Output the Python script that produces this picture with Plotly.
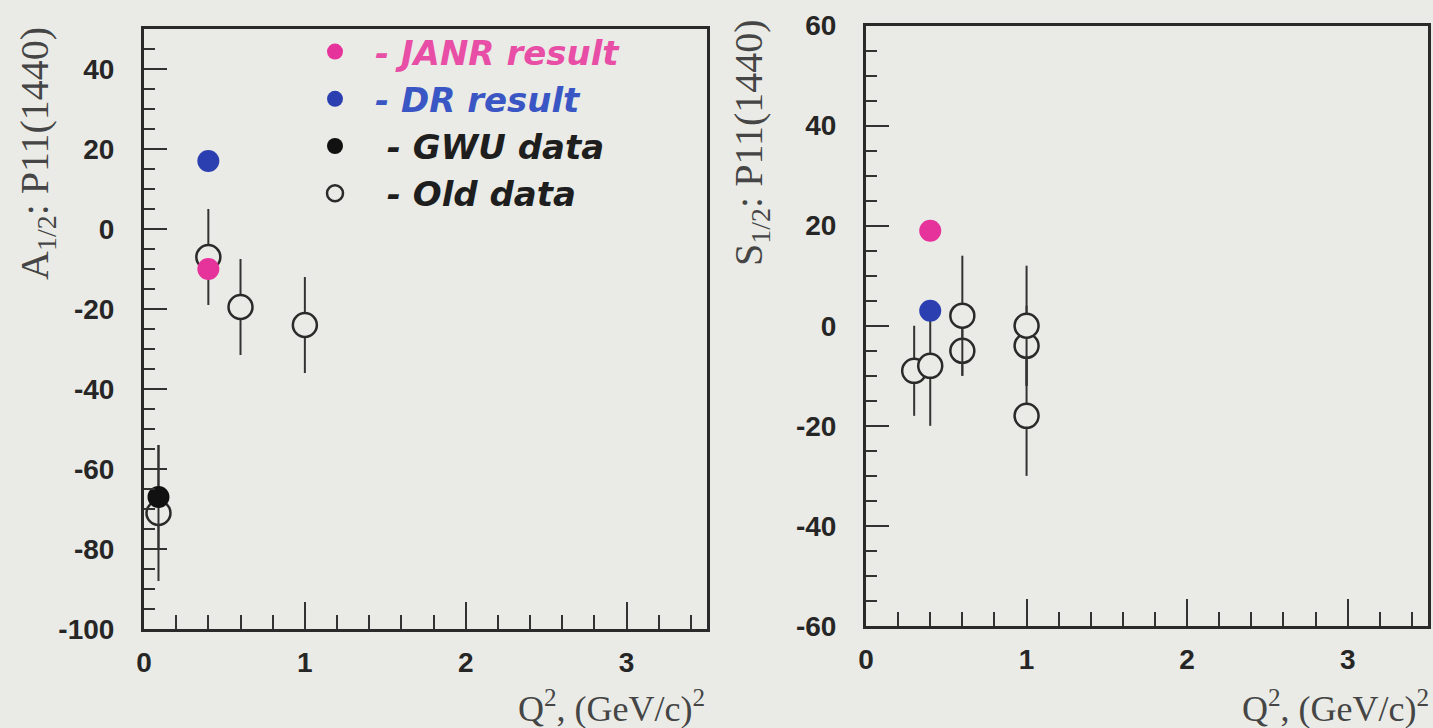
import plotly.graph_objects as go

W, H = 1433, 728

# Q^2 in (GeV/c)^2 and P11(1440) helicity amplitudes
janr_q2 = [0.4]
janr_A12 = [-10]
janr_S12 = [19]

dr_q2 = [0.4]
dr_A12 = [17]
dr_S12 = [3]

gwu_q2 = [0.09]
gwu_A12 = [-67]
gwu_A12_err = [13]

old_A_q2 = [0.09, 0.4, 0.6, 1.0]
old_A12 = [-71, -7, -19.5, -24]
old_A12_err = [17, 12, 12, 12]

# S1/2 old points drawn underneath (other error bars cross them)
old_S_q2_under = [0.6, 1.0]
old_S12_under = [-5, -4]
old_S12_under_err = [5, 8]

old_S_q2 = [0.3, 0.4, 0.6, 1.0, 1.0]
old_S12 = [-9, -8, 2, 0, -18]
old_S12_err = [9, 12, 12, 12, 12]

x_ticks = [0, 1, 2, 3]
x_tick_text = ["0", "1", "2", "3"]
yA_ticks = [-100, -80, -60, -40, -20, 0, 20, 40]
yA_tick_text = ["-100", "-80", "-60", "-40", "-20", "0", "20", "40"]
yS_ticks = [-60, -40, -20, 0, 20, 40, 60]
yS_tick_text = ["-60", "-40", "-20", "0", "20", "40", "60"]

BG = "#eaebe6"
INK = "#2a2a2a"
PINK = "#e6339b"
BLUE = "#2c3fb0"
PINK_TXT = "#e84ea6"
BLUE_TXT = "#3a56c4"

fig = go.Figure()


def open_pts(x, y, err, xa, ya, show=False, name=None, rank=None):
    fig.add_trace(go.Scatter(
        x=x, y=y, mode="markers", xaxis=xa, yaxis=ya,
        marker=dict(symbol="circle", size=24, color=BG,
                    line=dict(color=INK, width=2.5)),
        error_y=dict(type="data", array=err, visible=True,
                     thickness=2, width=0, color="#333333"),
        showlegend=show, name=name, legendrank=rank,
    ))


open_pts(old_S_q2_under, old_S12_under, old_S12_under_err, "x2", "y2")
open_pts(old_S_q2, old_S12, old_S12_err, "x2", "y2")
open_pts(old_A_q2, old_A12, old_A12_err, "x", "y", True,
         "&nbsp;- Old data", 4)

fig.add_trace(go.Scatter(
    x=gwu_q2, y=gwu_A12, mode="markers", xaxis="x", yaxis="y",
    marker=dict(symbol="circle", size=22, color="#111111"),
    error_y=dict(type="data", array=gwu_A12_err, visible=True,
                 thickness=2, width=0, color="#333333"),
    name="&nbsp;- GWU data", legendrank=3,
))

for ya, vals, show in (("y", dr_A12, True), ("y2", dr_S12, False)):
    fig.add_trace(go.Scatter(
        x=dr_q2, y=vals, mode="markers",
        xaxis="x" if ya == "y" else "x2", yaxis=ya,
        marker=dict(symbol="circle", size=22, color=BLUE),
        name=f"<span style='color:{BLUE_TXT}'>- DR result</span>",
        showlegend=show, legendrank=2,
    ))

for ya, vals, show in (("y", janr_A12, True), ("y2", janr_S12, False)):
    fig.add_trace(go.Scatter(
        x=janr_q2, y=vals, mode="markers",
        xaxis="x" if ya == "y" else "x2", yaxis=ya,
        marker=dict(symbol="circle", size=22, color=PINK),
        name=f"<span style='color:{PINK_TXT}'>- JANR result</span>",
        showlegend=show, legendrank=1,
    ))

tick_font = dict(family="Liberation Sans, Arial, sans-serif", size=28,
                 color="#262626", weight="bold")

axis_common = dict(
    showline=True, linewidth=3, linecolor=INK, mirror=True,
    ticks="inside", tickwidth=2, tickcolor="#333333",
    showgrid=False, zeroline=False, tickfont=tick_font,
    automargin=False,
)

xaxis_style = dict(axis_common, range=[0, 3.5], tickvals=x_ticks,
                   ticktext=x_tick_text,
                   ticklen=27, ticklabelstandoff=6,
                   minor=dict(dtick=0.2, tick0=0, ticks="inside",
                              ticklen=14, tickwidth=2,
                              tickcolor="#333333"))

yaxis_style = dict(axis_common, ticklen=23, ticklabelstandoff=21,
                   minor=dict(dtick=5, tick0=0, ticks="inside",
                              ticklen=11, tickwidth=2,
                              tickcolor="#333333"))

fig.update_layout(
    width=W, height=H, autosize=False,
    margin=dict(l=0, r=0, t=0, b=0, pad=0),
    paper_bgcolor=BG, plot_bgcolor=BG,
    xaxis=dict(xaxis_style, domain=[144 / W, 707 / W], anchor="y"),
    yaxis=dict(yaxis_style, domain=[(H - 629) / H, (H - 29) / H],
               range=[-100, 50], tickvals=yA_ticks,
               ticktext=yA_tick_text, anchor="x"),
    xaxis2=dict(xaxis_style, domain=[866 / W, 1428 / W], anchor="y2"),
    yaxis2=dict(yaxis_style, domain=[(H - 626) / H, (H - 25.5) / H],
                range=[-60, 60], tickvals=yS_ticks,
                ticktext=yS_tick_text, anchor="x2"),
    legend=dict(
        x=295 / W, y=1 - 23 / H, xanchor="left", yanchor="top",
        bgcolor="rgba(0,0,0,0)", borderwidth=0,
        font=dict(family="DejaVu Sans, sans-serif", size=34,
                  color="#1e1e1e", style="italic", weight="bold"),
        itemwidth=70, traceorder="normal",
    ),
    showlegend=True,
)

serif = dict(family="Liberation Serif, Times New Roman, serif",
             color="#454545")

fig.add_annotation(
    text="A<sub>1/2</sub>: P11(1440)", xref="paper", yref="paper",
    x=37 / W, y=1 - 154 / H, xanchor="center", yanchor="middle",
    textangle=-90, showarrow=False, font=dict(serif, size=40),
)
fig.add_annotation(
    text="S<sub>1/2</sub>: P11(1440)", xref="paper", yref="paper",
    x=751 / W, y=1 - 143 / H, xanchor="center", yanchor="middle",
    textangle=-90, showarrow=False, font=dict(serif, size=40),
)
for xr in (707, 1431):
    fig.add_annotation(
        text="Q<sup>2</sup>, (GeV/c)<sup>2</sup>", xref="paper",
        yref="paper", x=xr / W, y=0, yshift=-3, xanchor="right",
        yanchor="bottom", showarrow=False, font=dict(serif, size=36),
    )

fig.write_html("out.html")
